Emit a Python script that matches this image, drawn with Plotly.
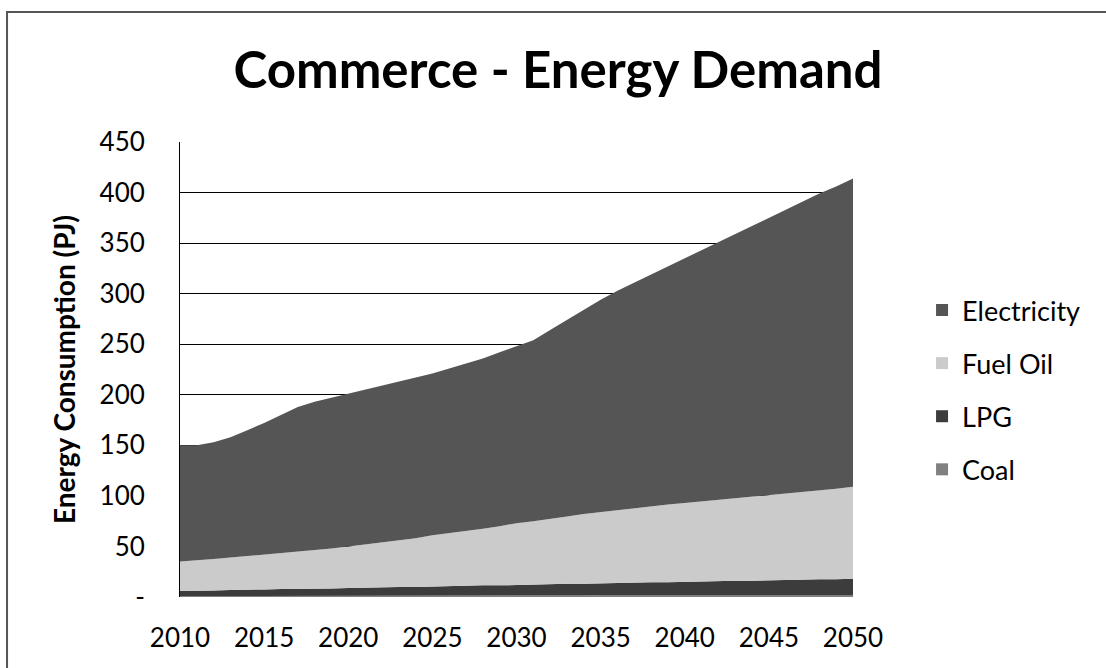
import plotly.graph_objects as go

years = list(range(2010, 2051))

coal = [1, 1, 1, 1, 1, 1, 1, 1, 1, 1,
        1.5, 1.5, 1.5, 1.5, 1.5, 1.5, 1.5, 1.5, 1.5, 1.5,
        1.5, 1.5, 1.5, 1.5, 1.5, 2, 2, 2, 2, 2,
        2, 2, 2, 2, 2, 2, 2, 2, 2, 2, 2]

lpg = [5, 5, 5.5, 6, 6, 6.5, 7, 7, 7.5, 7.5,
       7.5, 8, 8, 8.5, 8.5, 9, 9.5, 9.5, 10, 10,
       10.5, 11, 11, 11.5, 11.5, 11.5, 12, 12, 12.5, 12.5,
       13, 13.5, 13.5, 14, 14, 14.5, 15, 15, 15.5, 15.5, 16]

fuel_oil = [29, 30, 31, 32, 33.5, 34.5, 35.5, 37, 37.5, 39.5,
            41, 42.5, 44.5, 46, 48, 50.5, 52, 54, 56, 58.5,
            61, 62.5, 64.5, 66.5, 69, 70.5, 72, 74, 75.5, 77,
            78, 79, 80.5, 81.5, 83, 84.5, 85.5, 87, 88, 89.5, 91]

electricity = [115, 114, 115.5, 119, 124.5, 130, 136.5, 143, 147, 149,
               151, 153, 155, 157, 159, 160, 163, 166, 168.5, 172,
               175, 179, 187, 194.5, 202, 210, 217, 223, 229, 235.5,
               242, 248.5, 255, 261.5, 268, 274, 280.5, 287, 293.5, 299, 305]

series = [
    ("Coal", coal, "#808080", 4),
    ("LPG", lpg, "#3c3c3c", 3),
    ("Fuel Oil", fuel_oil, "#cbcbcb", 2),
    ("Electricity", electricity, "#555555", 1),
]

y_ticks = [0, 50, 100, 150, 200, 250, 300, 350, 400, 450]
y_ticktext = ["-", "50", "100", "150", "200", "250", "300", "350", "400", "450"]
x_ticks = [2010, 2015, 2020, 2025, 2030, 2035, 2040, 2045, 2050]

FONT = "Lato"

fig = go.Figure()
for name, vals, col, rank in series:
    fig.add_trace(go.Scatter(
        x=years, y=vals, name=name, mode="lines",
        stackgroup="one", showlegend=False,
        line=dict(width=0, color=col), fillcolor=col,
    ))
# legend swatches (square markers, as in the reference legend)
for name, vals, col, rank in series:
    fig.add_trace(go.Bar(
        x=[None], y=[None], name=name, marker=dict(color=col, line=dict(width=0)),
        legendgroup=name, legendrank=rank, showlegend=True,
    ))

fig.update_layout(
    width=1106, height=668,
    paper_bgcolor="white", plot_bgcolor="white",
    margin=dict(l=180, r=253, t=142, b=71),
    font=dict(family=FONT, color="black", size=26),
    title=dict(text="<b>Commerce - Energy Demand</b>", x=0.5045, xanchor="center",
               y=1 - 70 / 668, yanchor="middle", font=dict(family=FONT, size=51, color="black")),
    showlegend=True,
    legend=dict(x=1.1026, xanchor="left", y=0.455, yanchor="middle",
                traceorder="grouped", tracegroupgap=15,
                font=dict(family=FONT, size=27, color="black"),
                bgcolor="rgba(0,0,0,0)"),
    xaxis=dict(range=[2010, 2050], tickvals=x_ticks, showgrid=False, zeroline=False,
               showline=False, ticks="", ticklabelstandoff=23,
               tickfont=dict(family=FONT, size=26)),
    yaxis=dict(range=[0, 450], tickvals=y_ticks, ticktext=y_ticktext,
               showgrid=True, gridcolor="black", gridwidth=1, zeroline=False,
               showline=True, linecolor="black", linewidth=1, ticks="",
               ticklabelstandoff=29, tickfont=dict(family=FONT, size=26)),
    annotations=[dict(text="<b>Energy Consumption (PJ)</b>", textangle=-90,
                      xref="paper", yref="paper", x=-0.173, y=0.5,
                      xanchor="center", yanchor="middle", showarrow=False,
                      font=dict(family=FONT, size=28, color="black"))],
    shapes=[dict(type="rect", xref="paper", yref="paper",
                 x0=-0.257, x1=1.6, y0=-0.5, y1=1.2857,
                 line=dict(color="#555555", width=2), layer="below")],
)

fig.write_html("out.html", config={"displayModeBar": False},
               post_script="document.body.style.margin='0';")
